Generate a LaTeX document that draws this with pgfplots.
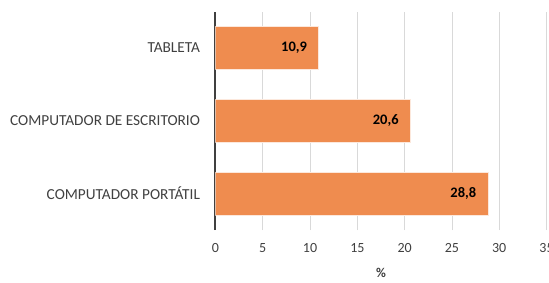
\documentclass[border=0pt]{standalone}
\usepackage{pgfplots}
\pgfplotsset{compat=1.18}
\usepackage{fontspec}
\setmainfont{Carlito}
\definecolor{barorange}{HTML}{EF8C4F}
\definecolor{gridgray}{HTML}{D9D9D9}
\definecolor{txtgray}{HTML}{404040}
\begin{document}
\begin{tikzpicture}
\begin{axis}[
  at={(0,0)}, anchor=south west,
  scale only axis,
  width=331pt, height=218pt,
  xbar,
  xmin=0, xmax=35,
  ymin=-0.5, ymax=2.49,
  bar width=43pt,
  axis x line*=bottom,
  axis y line*=left,
  x axis line style={draw=none},
  y axis line style={draw=txtgray, line width=2pt},
  xtick={0,5,...,35},
  ytick={0,1,2},
  yticklabels={COMPUTADOR PORTÁTIL, COMPUTADOR DE ESCRITORIO, TABLETA},
  major tick length=0pt,
  xmajorgrids,
  grid style={draw=gridgray, line width=0.8pt},
  ticklabel style={text=txtgray},
  xticklabel style={font=\fontsize{14}{16}\selectfont, yshift=-10pt},
  yticklabel style={font=\fontsize{15.3}{17}\selectfont, xshift=-12pt},
  /pgf/number format/assume math mode=true,
  xlabel={\%},
  xlabel style={font=\fontsize{13.5}{15}\selectfont\bfseries, text=txtgray, yshift=-9pt},
  nodes near coords,
  nodes near coords style={anchor=east, xshift=-8pt, font=\fontsize{14.5}{16}\selectfont\bfseries, text=black,
    /pgf/number format/.cd, fixed, fixed zerofill, precision=1, use comma},
]
\addplot[fill=barorange, draw=white!80!barorange, line width=0.6pt] coordinates {
  (28.8,0) (20.6,1) (10.9,2)
};
\end{axis}
\pgfresetboundingbox
\path[use as bounding box] (-215.5pt,-52pt) rectangle (333.5pt,230pt);
\end{tikzpicture}
\end{document}
